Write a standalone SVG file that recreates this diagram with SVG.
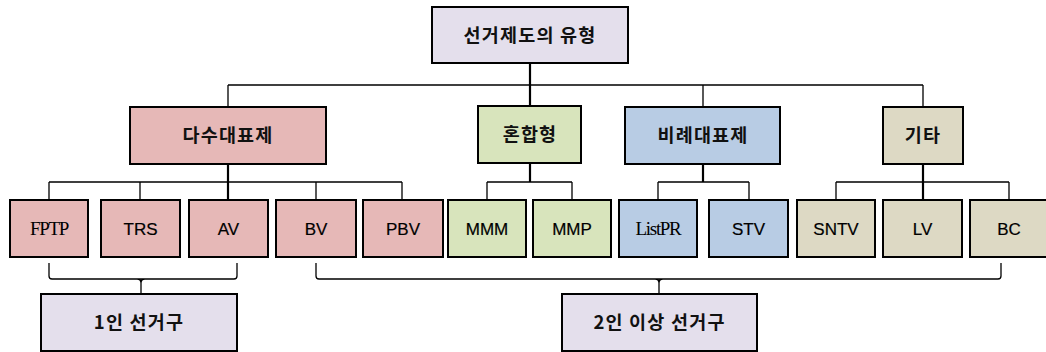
<svg xmlns="http://www.w3.org/2000/svg" width="1046" height="352" viewBox="0 0 1046 352">
<style>
.box{stroke:#000;stroke-width:2}
.lav{fill:#e4dfec}.pink{fill:#e6b8b7}.green{fill:#d8e4bc}.blue{fill:#b8cce4}.tan{fill:#ddd9c4}
.ko{font-family:"Noto Sans CJK KR","Noto Sans",sans-serif;font-size:18.5px;font-weight:bold;letter-spacing:1.2px;text-anchor:middle;fill:#111}
.en{font-family:"Liberation Sans",Arial,sans-serif;font-size:17px;text-anchor:middle;fill:#000;stroke:#000;stroke-width:0.2}
.sf{font-family:"Liberation Serif","Times New Roman",serif;font-size:19px;letter-spacing:-1.3px;text-anchor:middle;fill:#000}
.c{fill:none;stroke:#000;stroke-width:1.3}
.t{fill:none;stroke:#000;stroke-width:2.2}
</style>
<g id="connectors">
<path class="c" d="M228,85 H923 M228,85 V107 M703,85 V107 M923,85 V107"/>
<path class="t" d="M530,63 V106"/>
<path class="c" d="M49,182 H402 M49,182 V200 M140,182 V200 M316,182 V200 M402,182 V200"/>
<path class="t" d="M228,164 V200"/>
<path class="c" d="M487,182 H572 M487,182 V200 M572,182 V200"/>
<path class="t" d="M530,163 V182"/>
<path class="c" d="M658,182 H749 M658,182 V200 M749,182 V200"/>
<path class="t" d="M703,164 V182"/>
<path class="c" d="M836,182 H1009 M836,182 V200 M1009,182 V200"/>
<path class="t" d="M923,164 V200"/>
<path class="c" d="M49,263 V276 Q49,279 52,279 H234 Q237,279 237,276 V263 M137,279 Q141,279 141,283 V294 M145,279 Q141,279 141,283"/>
<path class="c" d="M316,263 V276 Q316,279 319,279 H998 Q1001,279 1001,276 V263 M655,279 Q659,279 659,283 V294 M663,279 Q659,279 659,283"/>
</g>
<g id="root"><rect class="box lav" x="432" y="7" width="196" height="56"/><text class="ko" x="530" y="41.5">선거제도의 유형</text></g>
<g id="majority"><rect class="box pink" x="130" y="107" width="196" height="57"/><text class="ko" x="228" y="142">다수대표제</text></g>
<g id="mixed"><rect class="box green" x="478" y="106" width="103" height="57"/><text class="ko" x="530" y="141">혼합형</text></g>
<g id="proportional"><rect class="box blue" x="625" y="107" width="155" height="57"/><text class="ko" x="703" y="142">비례대표제</text></g>
<g id="other"><rect class="box tan" x="883" y="107" width="80" height="57"/><text class="ko" x="923" y="142">기타</text></g>
<g id="fptp"><rect class="box pink" x="10" y="200" width="78" height="57"/><text class="sf" x="49" y="234.5">FPTP</text></g>
<g id="trs"><rect class="box pink" x="101" y="200" width="79" height="57"/><text class="en" x="140.5" y="234.5">TRS</text></g>
<g id="av"><rect class="box pink" x="189" y="200" width="79" height="57"/><text class="en" x="228.5" y="234.5">AV</text></g>
<g id="bv"><rect class="box pink" x="276" y="200" width="80" height="57"/><text class="en" x="316" y="234.5">BV</text></g>
<g id="pbv"><rect class="box pink" x="363" y="200" width="80" height="57"/><text class="en" x="403" y="234.5">PBV</text></g>
<g id="mmm"><rect class="box green" x="448" y="200" width="78" height="57"/><text class="en" x="487" y="234.5">MMM</text></g>
<g id="mmp"><rect class="box green" x="533" y="200" width="78" height="57"/><text class="en" x="572" y="234.5">MMP</text></g>
<g id="listpr"><rect class="box blue" x="619" y="200" width="78" height="57"/><text class="sf" x="658" y="234.5">ListPR</text></g>
<g id="stv"><rect class="box blue" x="709" y="200" width="79" height="57"/><text class="en" x="748.5" y="234.5">STV</text></g>
<g id="sntv"><rect class="box tan" x="797" y="200" width="78" height="57"/><text class="en" x="836" y="234.5">SNTV</text></g>
<g id="lv"><rect class="box tan" x="883" y="200" width="79" height="57"/><text class="en" x="922.5" y="234.5">LV</text></g>
<g id="bc"><rect class="box tan" x="970" y="200" width="80" height="57"/><text class="en" x="1009" y="234.5">BC</text></g>
<g id="single"><rect class="box lav" x="41" y="294" width="196" height="57"/><text class="ko" x="139" y="329">1인 선거구</text></g>
<g id="multi"><rect class="box lav" x="562" y="294" width="195" height="57"/><text class="ko" x="659.5" y="329">2인 이상 선거구</text></g>
</svg>
